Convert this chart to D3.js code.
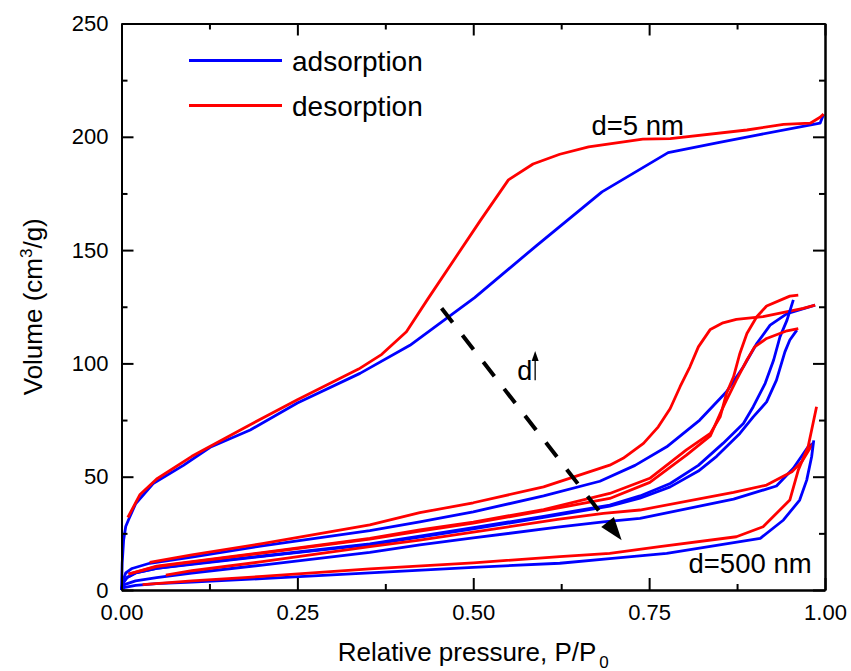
<!DOCTYPE html>
<html><head><meta charset="utf-8">
<script src="https://cdn.jsdelivr.net/npm/d3@7"></script>
<style>
body{margin:0;background:#fff}
text{font-family:"Liberation Sans",Arial,Helvetica,sans-serif;fill:#000}
</style>
</head><body><svg id="chart" width="851" height="671"></svg>
<script>
// ---------- tick values ----------
const xTicks = [0, 0.25, 0.5, 0.75, 1.0];
const xMinor = [0.125, 0.375, 0.625, 0.875];
const yTicks = [0, 50, 100, 150, 200, 250];
const yMinor = [25, 75, 125, 175, 225];

// ---------- d = 5 nm ----------
const aAdsP = [0, 0.001, 0.003, 0.006, 0.01, 0.02, 0.045, 0.088, 0.126, 0.183, 0.25, 0.339, 0.41, 0.502, 0.59, 0.683, 0.777, 0.85, 0.907, 0.993, 0.998];
const aAdsV = [0, 12, 22, 28, 31, 38, 47, 55, 63, 70.6, 82.5, 95.6, 108, 129, 152, 175.7, 193, 197.5, 201, 206, 210];
const aDesP = [0.009, 0.026, 0.05, 0.1, 0.173, 0.25, 0.337, 0.37, 0.405, 0.436, 0.51, 0.55, 0.585, 0.623, 0.664, 0.741, 0.78, 0.889, 0.941, 0.979, 0.993, 0.998];
const aDesV = [32, 42, 49, 59, 71.3, 84, 97.5, 104, 114, 128.7, 163, 181, 188, 192.3, 195.6, 199, 199.2, 203, 205.5, 206, 208.6, 210];

// ---------- sample B ----------
const bAdsP = [0, 0.002, 0.006, 0.015, 0.04, 0.1, 0.2, 0.353, 0.424, 0.5, 0.6, 0.68, 0.73, 0.775, 0.822, 0.86, 0.884, 0.903, 0.922, 0.946, 0.986];
const bAdsV = [0, 4, 7.5, 9.5, 11.8, 14.5, 19.5, 26.2, 30.1, 34.5, 41.5, 48, 55, 63.2, 75, 87.5, 98.5, 108.8, 116.9, 122, 125.7];
const bDesP = [0.04, 0.1, 0.2, 0.353, 0.424, 0.5, 0.6, 0.694, 0.713, 0.742, 0.763, 0.78, 0.794, 0.808, 0.82, 0.837, 0.855, 0.874, 0.912, 0.969, 0.986];
const bDesV = [12.2, 15.5, 20.5, 28.7, 34.1, 38.5, 45.5, 55.1, 58.1, 64.7, 72, 80.1, 89.7, 98.5, 107.3, 115, 117.9, 119.4, 120.6, 124.3, 125.7];

// ---------- sample C ----------
const cAdsP = [0, 0.002, 0.008, 0.02, 0.05, 0.1, 0.2, 0.353, 0.424, 0.5, 0.6, 0.694, 0.737, 0.78, 0.82, 0.855, 0.884, 0.898, 0.915, 0.927, 0.936, 0.946, 0.955];
const cAdsV = [0, 3, 5.5, 7.5, 9.5, 11.5, 15, 20.3, 23.8, 27.5, 32.5, 37.5, 41.5, 47, 55, 64.7, 73.5, 80.9, 91.2, 101.5, 111.7, 119.1, 128];
const cDesP = [0.01, 0.05, 0.1, 0.2, 0.353, 0.424, 0.5, 0.6, 0.694, 0.751, 0.803, 0.837, 0.851, 0.86, 0.87, 0.879, 0.889, 0.903, 0.917, 0.95, 0.962];
const cDesV = [7, 10.5, 12.5, 16.5, 22.8, 26.5, 30, 35.5, 42.6, 49.3, 61.8, 69.1, 76.4, 86.8, 94.1, 104.4, 113.2, 120.6, 125.3, 129.7, 130.1];

// ---------- sample D ----------
const dAdsP = [0, 0.002, 0.008, 0.02, 0.05, 0.1, 0.2, 0.353, 0.424, 0.5, 0.6, 0.694, 0.737, 0.78, 0.82, 0.846, 0.879, 0.898, 0.917, 0.931, 0.943, 0.95, 0.96];
const dAdsV = [0, 3, 5.5, 7.5, 9.5, 11.3, 14.8, 20, 23.3, 27, 32, 37, 40.5, 45.5, 52.5, 59, 69.1, 76.4, 83, 92.6, 105.1, 110.3, 114.7];
const dDesP = [0.01, 0.05, 0.1, 0.2, 0.353, 0.424, 0.5, 0.6, 0.694, 0.751, 0.803, 0.837, 0.851, 0.86, 0.874, 0.889, 0.9, 0.917, 0.946, 0.962];
const dDesV = [7, 10.3, 12.3, 16.3, 22.5, 26, 29.5, 35, 40.4, 47.5, 59.5, 68, 77.9, 83.8, 92.6, 101.5, 107.3, 111, 114.4, 115.4];

// ---------- sample E ----------
const eAdsP = [0, 0.001, 0.005, 0.02, 0.05, 0.1, 0.2, 0.353, 0.424, 0.5, 0.62, 0.685, 0.737, 0.87, 0.931, 0.955, 0.976, 0.983];
const eAdsV = [0, 1, 2.5, 4, 5.5, 7.5, 11, 16.6, 19.9, 23, 27.7, 30.1, 31.6, 40.1, 45.9, 53.7, 63.2, 64.7];
const eDesP = [0.063, 0.1, 0.2, 0.353, 0.424, 0.5, 0.62, 0.685, 0.737, 0.87, 0.917, 0.953, 0.967, 0.983];
const eDesV = [6.6, 8.5, 12.5, 19.1, 22, 25.5, 31.2, 33.8, 35.3, 43.1, 46.3, 52.2, 56.6, 64.7];

// ---------- d = 500 nm ----------
const fAdsP = [0, 0.0005, 0.005, 0.02, 0.05, 0.1, 0.2, 0.353, 0.5, 0.623, 0.694, 0.775, 0.908, 0.941, 0.964, 0.974, 0.981, 0.984];
const fAdsV = [0, 0.5, 1.2, 2, 2.8, 3.5, 5, 7.6, 10, 11.8, 13.8, 16.2, 22.8, 30.9, 39.7, 48.5, 58.8, 66];
const fDesP = [0.03, 0.1, 0.2, 0.353, 0.5, 0.623, 0.694, 0.765, 0.874, 0.912, 0.95, 0.962, 0.976, 0.988];
const fDesV = [2.4, 4, 6, 9.3, 12, 14.7, 16.2, 19.1, 23.5, 27.9, 39.7, 52.9, 63.2, 80.9];

// ---------- annotations (data coordinates) ----------
const trendArrow = [[0.455, 124.3], [0.711, 22]];
const dArrow = [[0.588, 92.6], [0.588, 105.5]];
const labels = [
  {text: "d=5 nm", p: 0.668, v: 200.7},
  {text: "d=500 nm", p: 0.806, v: 7.4}
];
const legendItems = ["adsorption", "desorption"];
const colors = {ads: "#0000ff", des: "#ff0000"};

// ---------- build ----------
const svg = d3.select("#chart");
const x = d3.scaleLinear().domain([0, 1]).range([121.5, 825]);
const y = d3.scaleLinear().domain([0, 250]).range([590, 23.5]);

const samples = [
  [aAdsP, aAdsV, aDesP, aDesV],
  [bAdsP, bAdsV, bDesP, bDesV],
  [cAdsP, cAdsV, cDesP, cDesV],
  [dAdsP, dAdsV, dDesP, dDesV],
  [eAdsP, eAdsV, eDesP, eDesV],
  [fAdsP, fAdsV, fDesP, fDesV]
];
const line = d3.line().x(d => x(d[0])).y(d => y(d[1])).curve(d3.curveLinear);
const zip = (P, V) => P.map((p, i) => [p, V[i]]);

const g = svg.append("g");
samples.forEach(s => {
  g.append("path").attr("d", line(zip(s[0], s[1]))).attr("fill", "none")
    .attr("stroke", colors.ads).attr("stroke-width", 2.8).attr("stroke-linejoin", "round");
  g.append("path").attr("d", line(zip(s[2], s[3]))).attr("fill", "none")
    .attr("stroke", colors.des).attr("stroke-width", 2.8).attr("stroke-linejoin", "round");
});

// axes
function styleAxis(sel) {
  sel.selectAll("path.domain").attr("stroke", "#000").attr("stroke-width", 2);
  sel.selectAll(".tick line").attr("stroke", "#000").attr("stroke-width", 2);
  sel.selectAll(".tick text").style("font-size", "22px").attr("fill", "#000");
}
const y0 = y(0), y1 = y(250), x0 = x(0), x1 = x(1);
svg.append("g").attr("transform", `translate(0,${y0})`)
  .call(d3.axisBottom(x).tickValues(xTicks).tickFormat(d3.format(".2f")).tickSizeInner(-12).tickSizeOuter(0).tickPadding(14))
  .call(styleAxis);
svg.append("g").attr("transform", `translate(0,${y0})`)
  .call(d3.axisBottom(x).tickValues(xMinor).tickFormat("").tickSizeInner(-6).tickSizeOuter(0)).call(styleAxis);
svg.append("g").attr("transform", `translate(0,${y1})`)
  .call(d3.axisTop(x).tickValues(xTicks).tickFormat("").tickSizeInner(-12).tickSizeOuter(0)).call(styleAxis);
svg.append("g").attr("transform", `translate(0,${y1})`)
  .call(d3.axisTop(x).tickValues(xMinor).tickFormat("").tickSizeInner(-6).tickSizeOuter(0)).call(styleAxis);
svg.append("g").attr("transform", `translate(${x0},0)`)
  .call(d3.axisLeft(y).tickValues(yTicks).tickFormat(d3.format("d")).tickSizeInner(-12).tickSizeOuter(0).tickPadding(13))
  .call(styleAxis);
svg.append("g").attr("transform", `translate(${x0},0)`)
  .call(d3.axisLeft(y).tickValues(yMinor).tickFormat("").tickSizeInner(-6).tickSizeOuter(0)).call(styleAxis);
svg.append("g").attr("transform", `translate(${x1},0)`)
  .call(d3.axisRight(y).tickValues(yTicks).tickFormat("").tickSizeInner(-12).tickSizeOuter(0)).call(styleAxis);
svg.append("g").attr("transform", `translate(${x1},0)`)
  .call(d3.axisRight(y).tickValues(yMinor).tickFormat("").tickSizeInner(-6).tickSizeOuter(0)).call(styleAxis);

// axis titles
const xt = svg.append("text").attr("x", (x0 + x1) / 2).attr("y", 661)
  .attr("text-anchor", "middle").style("font-size", "26px");
xt.append("tspan").text("Relative pressure, P/P");
xt.append("tspan").attr("dx", 3).attr("dy", 7).style("font-size", "17px").text("0");

const yt = svg.append("text").attr("transform", `translate(42,${(y0 + y1) / 2}) rotate(-90)`)
  .attr("text-anchor", "middle").style("font-size", "26px");
yt.append("tspan").text("Volume (cm");
yt.append("tspan").attr("dy", -10).style("font-size", "17px").text("3");
yt.append("tspan").attr("dy", 10).text("/g)");

// legend
const legY = [60.5, 105.5];
legendItems.forEach((t, i) => {
  svg.append("line").attr("x1", 189).attr("x2", 282).attr("y1", legY[i]).attr("y2", legY[i])
    .attr("stroke", i === 0 ? colors.ads : colors.des).attr("stroke-width", 2.8);
  svg.append("text").attr("x", 292).attr("y", legY[i] + 10).style("font-size", "28px").text(t);
});

// labels
labels.forEach(l => {
  svg.append("text").attr("x", x(l.p)).attr("y", y(l.v)).style("font-size", "27.5px").text(l.text);
});

// trend arrow (dashed) with filled head
const [sx, sy] = [x(trendArrow[0][0]), y(trendArrow[0][1])];
const [tx, ty] = [x(trendArrow[1][0]), y(trendArrow[1][1])];
const ang = Math.atan2(ty - sy, tx - sx);
const headLen = 23, headW = 8;
const bx = tx - headLen * Math.cos(ang), by = ty - headLen * Math.sin(ang);
svg.append("line").attr("x1", sx).attr("y1", sy).attr("x2", bx).attr("y2", by)
  .attr("stroke", "#000").attr("stroke-width", 4).attr("stroke-dasharray", "18,16");
svg.append("path").attr("d", `M${tx},${ty} L${bx + headW * Math.sin(ang)},${by - headW * Math.cos(ang)} L${bx - headW * Math.sin(ang)},${by + headW * Math.cos(ang)} Z`)
  .attr("fill", "#000");

// small d arrow
const ax = x(dArrow[0][0]), ay0 = y(dArrow[0][1]), ay1 = y(dArrow[1][1]);
svg.append("text").attr("x", ax - 3).attr("y", ay0).attr("text-anchor", "end").style("font-size", "27px").text("d");
svg.append("line").attr("x1", ax).attr("x2", ax).attr("y1", ay0).attr("y2", ay1 + 8)
  .attr("stroke", "#000").attr("stroke-width", 1.3);
svg.append("path").attr("d", `M${ax},${ay1} L${ax - 3.5},${ay1 + 10} L${ax + 3.5},${ay1 + 10} Z`).attr("fill", "#000");
</script>
</body></html>
